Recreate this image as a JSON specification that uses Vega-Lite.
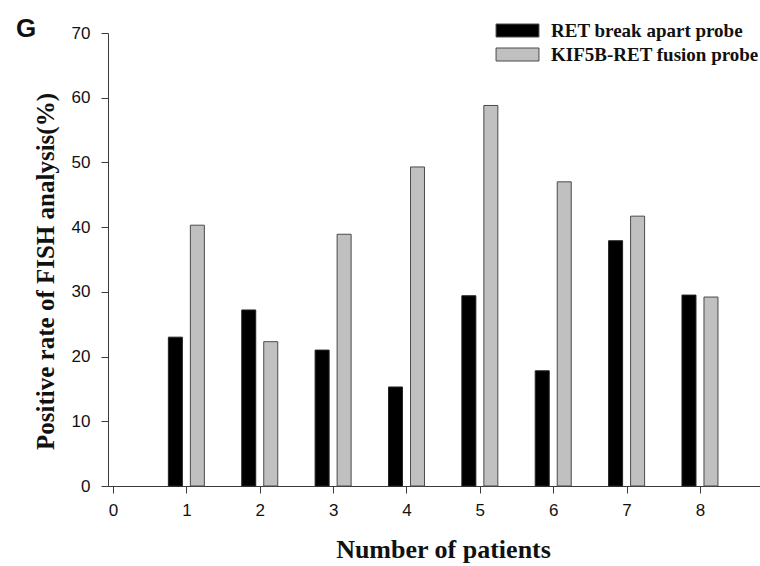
{
  "$schema": "https://vega.github.io/schema/vega-lite/v6.json",
  "autosize": {"type": "none"},
  "padding": {"left": 108, "top": 33, "right": 0, "bottom": 80},
  "width": 652,
  "height": 453,
  "background": "white",
  "title": {
    "text": "G",
    "anchor": "start",
    "frame": "group",
    "font": "Liberation Sans",
    "fontSize": 26,
    "fontWeight": "bold",
    "color": "#111",
    "baseline": "alphabetic",
    "dx": -92,
    "dy": 42,
    "offset": 0
  },
  "config": {
    "view": {"stroke": null},
    "axis": {"grid": false, "labelFlush": false, "domainColor": "#3a3a3a", "tickColor": "#3a3a3a", "labelFont": "Liberation Sans", "labelFontSize": 17, "labelColor": "#111", "tickSize": 7, "titleFont": "Liberation Serif", "titleFontWeight": "bold", "titleFontSize": 25, "titleColor": "#111"}
  },
  "data": {
    "values": [
      {"patient": 1, "probe": "RET break apart probe", "rate": 23.0},
      {"patient": 2, "probe": "RET break apart probe", "rate": 27.2},
      {"patient": 3, "probe": "RET break apart probe", "rate": 21.0},
      {"patient": 4, "probe": "RET break apart probe", "rate": 15.3},
      {"patient": 5, "probe": "RET break apart probe", "rate": 29.4},
      {"patient": 6, "probe": "RET break apart probe", "rate": 17.8},
      {"patient": 7, "probe": "RET break apart probe", "rate": 37.9},
      {"patient": 8, "probe": "RET break apart probe", "rate": 29.5},
      {"patient": 1, "probe": "KIF5B-RET fusion probe", "rate": 40.3},
      {"patient": 2, "probe": "KIF5B-RET fusion probe", "rate": 22.3},
      {"patient": 3, "probe": "KIF5B-RET fusion probe", "rate": 38.9},
      {"patient": 4, "probe": "KIF5B-RET fusion probe", "rate": 49.3},
      {"patient": 5, "probe": "KIF5B-RET fusion probe", "rate": 58.8},
      {"patient": 6, "probe": "KIF5B-RET fusion probe", "rate": 47.0},
      {"patient": 7, "probe": "KIF5B-RET fusion probe", "rate": 41.7},
      {"patient": 8, "probe": "KIF5B-RET fusion probe", "rate": 29.2}
    ]
  },
  "encoding": {
    "x": {
      "field": "patient", "type": "quantitative",
      "scale": {"domain": [0, 8.75], "nice": false},
      "axis": {"values": [0,1,2,3,4,5,6,7,8], "labelPadding": 9, "title": "Number of patients", "titleX": 335, "titleY": 71, "titleBaseline": "alphabetic", "titleAlign": "center", "titleFontSize": 26}
    },
    "y": {
      "field": "rate", "type": "quantitative",
      "scale": {"domain": [0, 70], "nice": false},
      "axis": {"values": [0,10,20,30,40,50,60,70], "labelPadding": 11, "title": "Positive rate of FISH analysis(%)", "titleX": -55, "titleY": 238, "titleBaseline": "alphabetic", "titleAlign": "center", "titleAngle": -90}
    },
    "color": {
      "field": "probe", "type": "nominal",
      "scale": {"domain": ["RET break apart probe", "KIF5B-RET fusion probe"], "range": ["#000000", "#c0c0c0"]},
      "legend": {
        "title": null,
        "orient": "none",
        "legendX": 400,
        "legendY": -12,
        "symbolType": "M-3.3,-1H3.3V1H-3.3Z",
        "symbolSize": 169,
        "symbolStrokeColor": "#4a4a4a",
        "symbolStrokeWidth": 1,
        "symbolOpacity": 1,
        "labelFont": "Liberation Serif",
        "labelFontWeight": "bold",
        "labelFontSize": 19,
        "labelColor": "#111",
        "labelOffset": 24,
        "labelLimit": 400,
        "rowPadding": 4
      }
    }
  },
  "layer": [
    {
      "transform": [{"filter": "datum.probe === 'RET break apart probe'"}],
      "mark": {"type": "bar", "width": 14, "xOffset": -11, "stroke": "#222", "strokeWidth": 1, "opacity": 1}
    },
    {
      "transform": [{"filter": "datum.probe === 'KIF5B-RET fusion probe'"}],
      "mark": {"type": "bar", "width": 14, "xOffset": 11, "stroke": "#4a4a4a", "strokeWidth": 1, "opacity": 1}
    }
  ]
}
